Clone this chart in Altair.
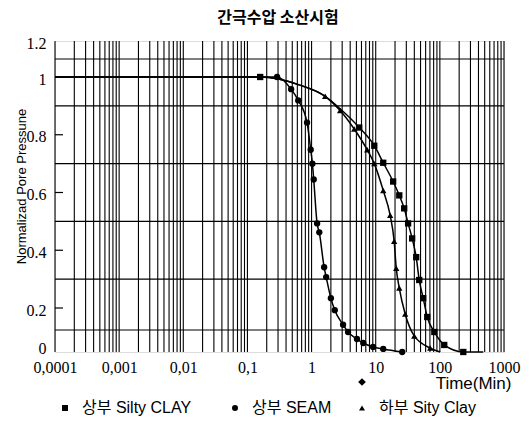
import altair as alt
import pandas as pd

TITLE = "간극수압 소산시험"
Y_TITLE = "Normalizad Pore Pressune"
X_TITLE = "Time(Min)"
SERIES = ["상부 Silty CLAY", "상부 SEAM", "하부 Sity Clay"]
SHAPES = ["square", "circle", "triangle-up"]

# markers (time in min, normalized pore pressure)
SILTY_T = [0.158, 5.53, 9.5, 13.1, 18.7, 23.3, 27.8, 32, 37, 42.8, 47.7, 55, 63.6, 82, 117, 232]
SILTY_P = [1.0, 0.825, 0.762, 0.703, 0.638, 0.59, 0.545, 0.493, 0.441, 0.376, 0.297, 0.234, 0.159, 0.091, 0.032, 0.0]
SEAM_T = [0.29, 0.48, 0.62, 0.85, 0.97, 1.03, 1.08, 1.22, 1.32, 1.57, 1.69, 2.0, 2.3, 3.1, 3.7, 5.1, 6.4, 9.1, 13.1, 25.9]
SEAM_P = [1.0, 0.958, 0.919, 0.842, 0.748, 0.70, 0.645, 0.493, 0.462, 0.341, 0.307, 0.234, 0.19, 0.124, 0.091, 0.059, 0.041, 0.023, 0.014, 0.0]
LOWER_T = [1.63, 2.79, 4.62, 7.37, 9.5, 13.1, 16.8, 19.4, 20.9, 23.3, 28.8, 39.9, 70.8]
LOWER_P = [0.933, 0.884, 0.82, 0.748, 0.70, 0.607, 0.521, 0.431, 0.338, 0.269, 0.173, 0.073, 0.018]

# fitted curves
SILTY_LINE_T = [0.0001, 0.158, 0.66, 1.63, 2.79] + SILTY_T[1:] + [475]
SILTY_LINE_P = [1.0, 1.0, 0.972, 0.933, 0.89] + SILTY_P[1:] + [0.0]
SEAM_LINE_T = [0.0001, 0.158] + SEAM_T
SEAM_LINE_P = [1.0, 1.0] + SEAM_P
LOWER_LINE_T = [0.0001, 0.158, 0.66] + LOWER_T + [101]
LOWER_LINE_P = [1.0, 1.0, 0.972] + LOWER_P + [0.0]

X_TICKS = [0.0001, 0.001, 0.01, 0.1, 1, 10, 100, 1000]
X_GRID_MULT = [1, 2, 3, 4, 5, 6, 7, 8, 9]
Y_TICKS = [0, 0.2, 0.4, 0.6, 0.8, 1.0, 1.2]
Y_GRID = [0.1, 0.3, 0.5, 0.7, 0.9, 1.1]
Y_INNER_TICKS = [0.2, 0.4, 0.6, 0.8, 1.0]

W, H = 449, 311
LEGEND_SYM_X = [10, 180, 307]   # layout (pixels from plot's left edge)
LEGEND_Y = 367

pts = pd.concat([
    pd.DataFrame({"t": SILTY_T, "p": SILTY_P, "s": SERIES[0]}),
    pd.DataFrame({"t": SEAM_T, "p": SEAM_P, "s": SERIES[1]}),
    pd.DataFrame({"t": LOWER_T, "p": LOWER_P, "s": SERIES[2]}),
])
lines = pd.concat([
    pd.DataFrame({"t": SILTY_LINE_T, "p": SILTY_LINE_P, "s": SERIES[0]}),
    pd.DataFrame({"t": SEAM_LINE_T, "p": SEAM_LINE_P, "s": SERIES[1]}),
    pd.DataFrame({"t": LOWER_LINE_T, "p": LOWER_LINE_P, "s": SERIES[2]}),
])
xgrid = pd.DataFrame({"t": [m * d for d in X_TICKS[:-1] for m in X_GRID_MULT] + [X_TICKS[-1]]})
ygrid = pd.DataFrame({"p": Y_GRID})
yticks = pd.DataFrame({"p": Y_INNER_TICKS})

xs = alt.Scale(type="log", domain=[0.0001, 1000], nice=False)
ys = alt.Scale(domain=[0, 0.2, 1.0, 1.2], range=[H, 267, 36, 0], nice=False, zero=False)

xaxis = alt.Axis(
    values=X_TICKS, labelExpr="replace(toString(datum.value), '.', ',')",
    title=X_TITLE, titleFont="Liberation Sans", titleFontSize=17, titleFontWeight="normal",
    titleAnchor="end", titleAlign="right", titleBaseline="alphabetic", titleX=456, titleY=36,
    labelFont="Liberation Serif", labelFontSize=16, labelColor="black", labelPadding=7,
    labelFlush=False, labelOverlap=False, ticks=False, grid=False, domain=False,
)
yaxis = alt.Axis(
    values=Y_TICKS, format="~g", title=Y_TITLE, titleFont="Liberation Sans", titleFontSize=13,
    titleFontWeight="normal", titleAngle=270, titleAlign="center", titleBaseline="alphabetic",
    titleX=-30, titleY=145, labelFont="Liberation Serif", labelFontSize=16, labelColor="black",
    labelPadding=9, ticks=False, grid=False, domain=False, labelFlush=False, labelOverlap=False,
    labelOffset={"condition": {"test": "datum.value === 0", "value": -4}, "value": 2},
)

X = alt.X("t:Q", scale=xs, axis=xaxis)
Y = alt.Y("p:Q", scale=ys, axis=yaxis)

vgrid = alt.Chart(xgrid).mark_rule(color="black", strokeWidth=1.1).encode(x=X)
hgrid = alt.Chart(ygrid).mark_rule(color="black", strokeWidth=1.2).encode(y=Y)
inner = alt.Chart(yticks).mark_rule(color="black", strokeWidth=1.2).encode(
    y=Y, x=alt.value(0), x2=alt.value(8))
curve = alt.Chart(lines).mark_line(color="black", strokeWidth=1.5, interpolate="monotone").encode(
    x=X, y=Y, detail="s:N")
marks = alt.Chart(pts).mark_point(filled=True, color="black", size=40, opacity=1).encode(
    x=X, y=Y,
    shape=alt.Shape("s:N", scale=alt.Scale(domain=SERIES, range=SHAPES), legend=None),
)
diamond = alt.Chart(pd.DataFrame({"k": [1]})).mark_point(
    shape="diamond", filled=True, color="black", size=60, opacity=1).encode(
    x=alt.value(307), y=alt.value(341))

title = alt.Chart(pd.DataFrame({"txt": [TITLE]})).mark_text(
    font="Noto Sans CJK KR", fontSize=16, fontWeight="bold", color="black",
    align="center", baseline="alphabetic").encode(
    text="txt:N", x=alt.value(223), y=alt.value(-18))

legend_layers = []
for name, shp, lx in zip(SERIES, SHAPES, LEGEND_SYM_X):
    d = pd.DataFrame({"s": [name]})
    legend_layers.append(alt.Chart(d).mark_point(
        shape=shp, filled=True, color="black", size=36, opacity=1).encode(
        x=alt.value(lx), y=alt.value(LEGEND_Y)))
    legend_layers.append(alt.Chart(d).mark_text(
        font="Liberation Sans, Noto Sans CJK KR", fontSize=16, color="black",
        align="left", baseline="middle").encode(
        text="s:N", x=alt.value(lx + 17), y=alt.value(LEGEND_Y)))

chart = alt.layer(vgrid, hgrid, inner, curve, marks, diamond, title, *legend_layers).properties(
    width=W, height=H,
    autosize=alt.AutoSizeParams(type="none"),
    padding={"left": 47, "top": 33, "right": 20, "bottom": 65},
).configure_view(stroke="black", strokeWidth=1.5).configure(background="white")

chart.save("out.html", embed_options={"renderer": "svg", "actions": False})
